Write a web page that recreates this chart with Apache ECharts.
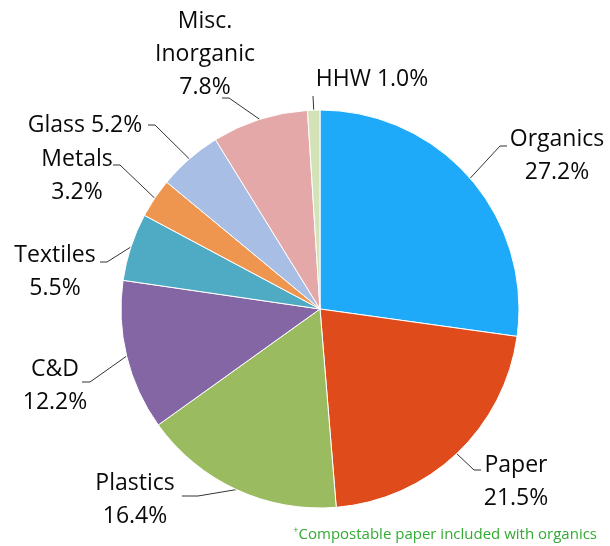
<!DOCTYPE html>
<html>
<head>
<meta charset="utf-8">
<script src="https://cdn.jsdelivr.net/npm/echarts@6/dist/echarts.min.js"></script>
<style>
  html, body { margin: 0; padding: 0; background: #fff; }
  #chart { width: 610px; height: 546px; }
</style>
</head>
<body>
<div id="chart"></div>
<script>
// waste composition, clockwise from 12 o'clock
const categories = ['Organics', 'Paper', 'Plastics', 'C&D', 'Textiles', 'Metals', 'Glass', 'Misc.\nInorganic', 'HHW'];
const shares = [27.2, 21.5, 16.4, 12.2, 5.5, 3.2, 5.2, 7.8, 1.0];
const colors = ['#1eaaf8', '#e04b1b', '#9bbb61', '#8366a3', '#4fabc4', '#ee9650', '#a9bee4', '#e5a8a8', '#d3e2b7'];
// labels shown on one line with value
const singleLine = ['Glass', 'HHW'];

// label placement: [centre x, centre y, elbow x, elbow y, end x]
const labelSpots = [
  [557, 156, 500, 146, 507],
  [516, 482, 474, 470, 481],
  [135, 500, 198, 496, 182],
  [55, 386, 90, 382, 82],
  [55, 272, 107, 262, 100],
  [77, 176, 120, 165, 113],
  [85, 125, 155, 125, 148],
  [205, 54, 229, 98, 222],
  [372, 79, 313, 96, 313]
];

const chart = echarts.init(document.getElementById('chart'));

const data = categories.map((name, i) => ({
  name: name,
  value: shares[i],
  itemStyle: { color: colors[i] }
}));

chart.setOption({
  animation: false,
  series: [{
    type: 'pie',
    center: [320, 309],
    radius: 199,
    startAngle: 90,
    clockwise: true,
    data: data,
    itemStyle: { borderColor: '#ffffff', borderWidth: 1 },
    label: {
      show: true,
      position: 'outside',
      overflow: 'none',
      fontFamily: 'Open Sans',
      fontSize: 23,
      lineHeight: 33,
      color: '#0a0a0a',
      align: 'center',
      formatter: p => {
        const v = p.value.toFixed(1) + '%';
        return singleLine.includes(p.name) ? p.name + ' ' + v : p.name + '\n' + v;
      }
    },
    labelLine: {
      show: true,
      lineStyle: { color: '#333', width: 1 }
    },
    labelLayout: params => {
      const s = labelSpots[params.dataIndex];
      const start = params.labelLinePoints ? params.labelLinePoints[0] : [s[2], s[3]];
      return {
        x: s[0],
        y: s[1],
        width: 200,
        align: 'center',
        verticalAlign: 'middle',
        labelLinePoints: [start, [s[2], s[3]], [s[4], s[3]]]
      };
    }
  }],
  graphic: [{
    type: 'text',
    right: 13,
    bottom: 4,
    style: {
      text: '{sup|+}Compostable paper included with organics',
      fill: '#33aa33',
      font: '15px "Open Sans"',
      rich: {
        sup: { fontSize: 9, verticalAlign: 'top', fill: '#33aa33', padding: [0, 0, 7, 0] }
      }
    }
  }]
});
</script>
</body>
</html>
